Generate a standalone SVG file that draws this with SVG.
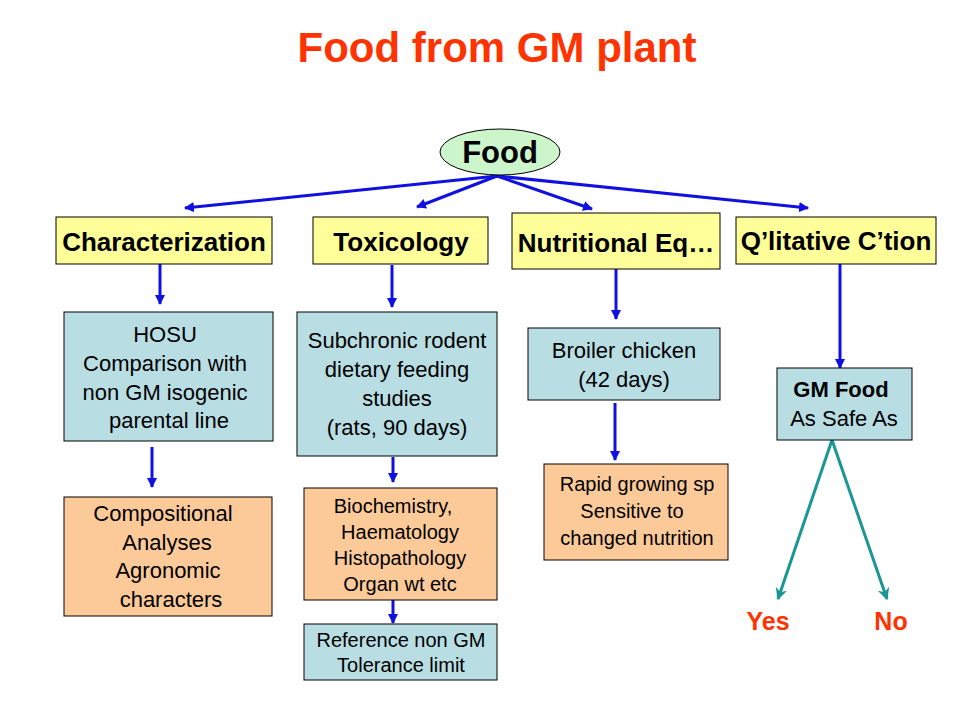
<svg xmlns="http://www.w3.org/2000/svg" width="960" height="720" viewBox="0 0 960 720">
<defs>
<marker id="ab" viewBox="0 0 10 10" refX="9" refY="5" markerWidth="10" markerHeight="10" markerUnits="userSpaceOnUse" orient="auto">
<path d="M0,0 L10,5 L0,10 z" fill="#1010E0"/>
</marker>
<marker id="at" viewBox="0 0 10 10" refX="9" refY="5" markerWidth="14" markerHeight="12" markerUnits="userSpaceOnUse" orient="auto">
<path d="M0,0 L10,5 L0,10 L3,5 z" fill="#1A9696"/>
</marker>
</defs>
<style>
text{font-family:"Liberation Sans",Arial,sans-serif;fill:#000;text-anchor:middle}
.h{font-weight:bold;font-size:26px}
.b{font-size:22px}
.s{font-size:20px}
.y{fill:#FFFF99;stroke:#000;stroke-width:1}
.c{fill:#B8DEE4;stroke:#000;stroke-width:1}
.p{fill:#FCCA98;stroke:#000;stroke-width:1}
.blue{stroke:#1010E0;stroke-width:3;fill:none;marker-end:url(#ab)}
.teal{stroke:#1A9696;stroke-width:3;fill:none;marker-end:url(#at)}
.r{fill:#FF3300;font-weight:bold}
</style>
<rect width="960" height="720" fill="#fff"/>
<text x="497" y="62" class="r" style="font-size:42px">Food from GM plant</text>

<g id="connectors">
<line class="blue" x1="497" y1="176" x2="185" y2="208"/>
<line class="blue" x1="497" y1="176" x2="417" y2="207"/>
<line class="blue" x1="497" y1="176" x2="592" y2="209"/>
<line class="blue" x1="497" y1="176" x2="808" y2="208"/>
<line class="blue" x1="160" y1="264" x2="160" y2="304"/>
<line class="blue" x1="392" y1="265" x2="392" y2="307"/>
<line class="blue" x1="616" y1="269" x2="616" y2="319"/>
<line class="blue" x1="840" y1="264" x2="840" y2="368"/>
<line class="blue" x1="152" y1="447" x2="152" y2="487"/>
<line class="blue" x1="393" y1="457" x2="393" y2="482"/>
<line class="blue" x1="615" y1="403" x2="615" y2="460"/>
<line class="blue" x1="393" y1="600" x2="393" y2="623"/>
<line class="teal" x1="832" y1="440" x2="778" y2="599"/>
<line class="teal" x1="832" y1="440" x2="887" y2="599"/>
</g>

<g id="food">
<ellipse cx="500" cy="152" rx="60" ry="23" fill="#CCF5CC" stroke="#000" stroke-width="1"/>
<text x="500" y="163" style="font-weight:bold;font-size:31px">Food</text>
</g>

<g id="characterization">
<rect class="y" x="56" y="217" width="216" height="47"/>
<text x="164" y="251" class="h">Characterization</text>
</g>
<g id="toxicology">
<rect class="y" x="313" y="217" width="175" height="47"/>
<text x="401" y="251" class="h">Toxicology</text>
</g>
<g id="nutritional">
<rect class="y" x="512" y="213" width="208" height="56"/>
<text x="616" y="252" class="h">Nutritional Eq…</text>
</g>
<g id="qualitative">
<rect class="y" x="736" y="217" width="200" height="47"/>
<text x="836" y="250" class="h">Q’litative C’tion</text>
</g>

<g id="hosu">
<rect class="c" x="64" y="312" width="209" height="129"/>
<text x="165" y="342" class="b">HOSU</text>
<text x="165" y="371" class="b">Comparison with</text>
<text x="165" y="400" class="b">non GM isogenic</text>
<text x="169" y="428" class="b">parental line</text>
</g>
<g id="subchronic">
<rect class="c" x="297" y="312" width="200" height="144"/>
<text x="397" y="348" class="b">Subchronic rodent</text>
<text x="397" y="377" class="b">dietary feeding</text>
<text x="397" y="406" class="b">studies</text>
<text x="397" y="435" class="b">(rats, 90 days)</text>
</g>
<g id="broiler">
<rect class="c" x="528" y="328" width="192" height="72"/>
<text x="624" y="358" class="b">Broiler chicken</text>
<text x="624" y="387" class="b">(42 days)</text>
</g>
<g id="gmfood">
<rect class="c" x="777" y="368" width="135" height="72"/>
<text x="841" y="397" class="b" style="font-weight:bold">GM Food</text>
<text x="844" y="426" class="b">As Safe As</text>
</g>

<g id="compositional">
<rect class="p" x="64" y="497" width="208" height="119"/>
<text x="163" y="521" class="b">Compositional</text>
<text x="167" y="550" class="b">Analyses</text>
<text x="168" y="578" class="b">Agronomic</text>
<text x="171" y="607" class="b">characters</text>
</g>
<g id="biochemistry">
<rect class="p" x="304" y="488" width="193" height="112"/>
<text x="393" y="513" class="s">Biochemistry,</text>
<text x="400" y="539" class="s">Haematology</text>
<text x="400" y="565" class="s">Histopathology</text>
<text x="400" y="591" class="s">Organ wt etc</text>
</g>
<g id="reference">
<rect class="c" x="304" y="624" width="193" height="56"/>
<text x="401" y="647" class="s">Reference non GM</text>
<text x="401" y="672" class="s">Tolerance limit</text>
</g>
<g id="rapid">
<rect class="p" x="544" y="464" width="184" height="96"/>
<text x="637" y="491" class="s">Rapid growing sp</text>
<text x="632" y="518" class="s">Sensitive to</text>
<text x="637" y="545" class="s">changed nutrition</text>
</g>

<g id="yes"><text x="768" y="630" class="r" style="font-size:25px">Yes</text></g>
<g id="no"><text x="891" y="630" class="r" style="font-size:25px">No</text></g>
</svg>
